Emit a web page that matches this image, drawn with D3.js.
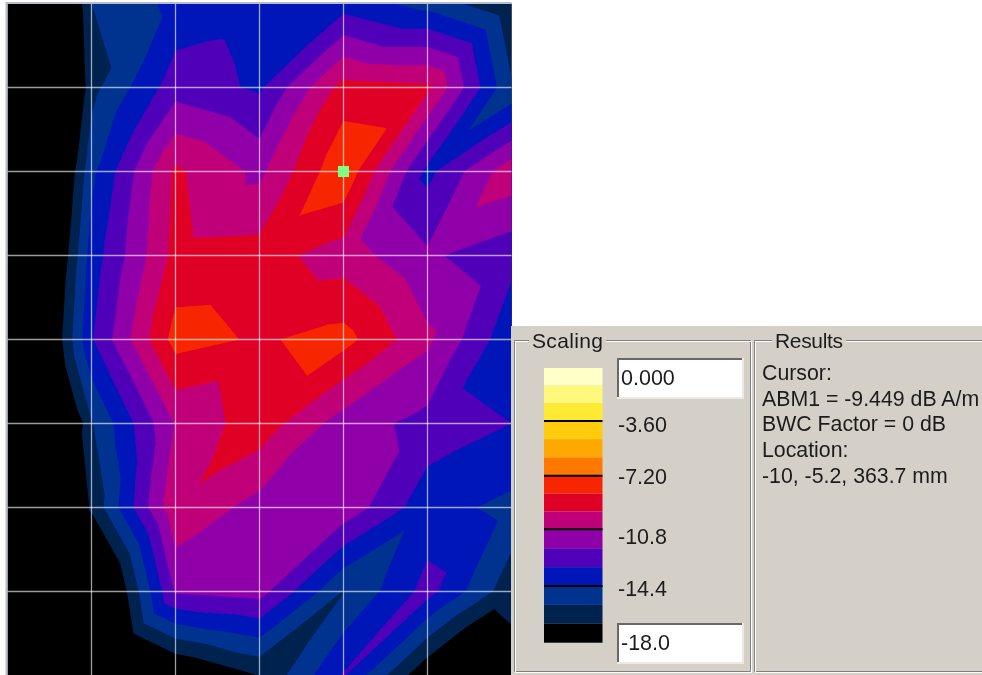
<!DOCTYPE html>
<html>
<head>
<meta charset="utf-8">
<title>ABM1 scan</title>
<script src="https://cdn.jsdelivr.net/npm/d3@7"></script>
<style>
  html, body { margin: 0; padding: 0; background: #fff; }
  svg { display: block; }
  text { font-family: "Liberation Sans", Arial, sans-serif; fill: #1c1c1c; }
</style>
</head>
<body>
<div id="chart"></div>
<script>
// scan positions, mm
const scanX = [-50, -40, -30, -20, -10, 0, 10];
const scanY = [14.8, 4.8, -5.2, -15.2, -25.2, -35.2, -45.2, -55.2, -65.2];

// field at the grid nodes, dB A/m
const nodes0 = [-26, -15.6, -14.06, -13.9, -13.75, -14.84, -16.65];
const nodes1 = [-28, -16, -12.52, -13.4, -9.1, -9.35, -15.45];
const nodes2 = [-25.4, -14.7, -9.38, -11.1, -7.35, -13.55, -10];
const nodes3 = [-24.4, -13.87, -9.18, -9.09, -10.2, -11.8, -12.8];
const nodes4 = [-23.3, -13.3, -7.92, -8.55, -7.95, -10.55, -14.1];
const nodes5 = [-26.6, -15.7, -10.71, -8.85, -11.4, -12.4, -13.2];
const nodes6 = [-24, -16.57, -9.82, -11.25, -11.15, -13.97, -14.7];
const nodes7 = [-30, -20.4, -11.85, -11.5, -15.65, -12.74, -16.4];
const nodes8 = [-30, -24, -18.5, -16.78, -13.1, -17.93, -17.4];
const nodeRows = [nodes0, nodes1, nodes2, nodes3, nodes4, nodes5, nodes6, nodes7, nodes8];

// field at the middle of each grid cell
const mids0 = [-21.5, -15.15, -13.07, -13.48, -12.1, -13];
const mids1 = [-21, -13.25, -11.4, -9.95, -8.37, -14.42];
const mids2 = [-19.6, -11.7, -10.17, -8.36, -11.7, -10.94];
const mids3 = [-18.6, -11.04, -8.5, -9.2, -9.95, -11.7];
const mids4 = [-18.9, -12, -9.62, -8.47, -10.85, -13.35];
const mids5 = [-20.5, -13.45, -9.43, -11.5, -11.8, -13.62];
const mids6 = [-20, -15.1, -11.5, -11.35, -14.76, -13.76];
const mids7 = [-24, -16.8, -14.6, -16.15, -12.9, -17.36];
const midRows = [mids0, mids1, mids2, mids3, mids4, mids5, mids6, mids7];

// colour bands, top of the scale first
const bandTops = [0, -1.2, -2.4, -3.6, -4.8, -6, -7.2, -8.4, -9.6, -10.8, -12, -13.2, -14.4, -15.6, -16.8];
const bandColors = ['#ffffc8', '#fff87a', '#ffea30', '#ffcc10', '#ffa800', '#ff7800', '#f82800', '#e00028',
  '#c00078', '#9000a8', '#5000b8', '#0018b8', '#003090', '#002050', '#000000'];
const scaleMarks = [-3.6, -7.2, -10.8, -14.4];
const scaleLabels = ['-3.60', '-7.20', '-10.8', '-14.4'];
const scaleMin = '-18.0';
const scaleMax = '0.000';

const cursor = { x: -10, y: -5.2 };
const resultLines = ['Cursor:', 'ABM1 = -9.449 dB A/m', 'BWC Factor = 0 dB', 'Location:', '-10, -5.2, 363.7 mm'];

const width = 982;
const height = 675;
const panelColor = '#d4d0c8';

const svg = d3.select('#chart').append('svg')
  .attr('width', width)
  .attr('height', height);

// the screenshot is a little soft
svg.append('defs').append('filter')
  .attr('id', 'soft')
  .attr('filterUnits', 'userSpaceOnUse')
  .attr('x', 0).attr('y', 0)
  .attr('width', width).attr('height', height)
  .append('feGaussianBlur')
  .attr('stdDeviation', 0.45);

const x = d3.scaleLinear().domain([scanX[0], scanX[scanX.length - 1]]).range([7.5, 511.5]);
const y = d3.scaleLinear().domain([scanY[0], scanY[scanY.length - 1]]).range([3.5, 675.5]);

// every grid cell is cut into four triangles that meet at its middle
const triangles = [];
midRows.forEach((row, j) => {
  row.forEach((mid, i) => {
    const c = { x: (scanX[i] + scanX[i + 1]) / 2, y: (scanY[j] + scanY[j + 1]) / 2, v: mid };
    const a = { x: scanX[i], y: scanY[j], v: nodeRows[j][i] };
    const b = { x: scanX[i + 1], y: scanY[j], v: nodeRows[j][i + 1] };
    const d = { x: scanX[i + 1], y: scanY[j + 1], v: nodeRows[j + 1][i + 1] };
    const e = { x: scanX[i], y: scanY[j + 1], v: nodeRows[j + 1][i] };
    triangles.push([a, b, c], [b, d, c], [d, e, c], [e, a, c]);
  });
});

// part of a triangle at or above a level
function clipAbove(tri, level) {
  const out = [];
  tri.forEach((p, k) => {
    const q = tri[(k + 1) % tri.length];
    if (p.v >= level) out.push(p);
    if ((p.v >= level) !== (q.v >= level)) {
      const t = (level - p.v) / (q.v - p.v);
      out.push({ x: p.x + t * (q.x - p.x), y: p.y + t * (q.y - p.y), v: level });
    }
  });
  return out;
}

const polygon = d3.line().x(p => x(p.x)).y(p => y(p.y));

const map = svg.append('g').attr('filter', 'url(#soft)');

map.append('rect')
  .attr('x', x(scanX[0]))
  .attr('y', y(scanY[0]))
  .attr('width', x(scanX[scanX.length - 1]) - x(scanX[0]))
  .attr('height', y(scanY[scanY.length - 1]) - y(scanY[0]))
  .attr('fill', bandColors[bandColors.length - 1]);

// paint from the lowest band up, each band covers everything above its floor
for (let k = bandColors.length - 2; k >= 0; k--) {
  const floor = bandTops[k + 1];
  const d = triangles
    .map(t => clipAbove(t, floor))
    .filter(p => p.length > 2)
    .map(p => polygon(p) + 'Z')
    .join('');
  if (d) map.append('path').attr('d', d).attr('fill', bandColors[k]);
}

// grid
map.selectAll('.gx').data(scanX.slice(1, -1)).join('line')
  .attr('x1', d => x(d)).attr('x2', d => x(d))
  .attr('y1', y(scanY[0])).attr('y2', height)
  .attr('stroke', '#fff').attr('stroke-opacity', 0.62).attr('stroke-width', 1.3);
map.selectAll('.gy').data(scanY.slice(1, -1)).join('line')
  .attr('y1', d => y(d)).attr('y2', d => y(d))
  .attr('x1', x(scanX[0])).attr('x2', x(scanX[scanX.length - 1]))
  .attr('stroke', '#fff').attr('stroke-opacity', 0.62).attr('stroke-width', 1.3);

// frame on the left and top
map.append('path')
  .attr('d', `M${x(scanX[0]) - 1},${height}V${y(scanY[0]) - 0.5}H${x(scanX[scanX.length - 1])}`)
  .attr('fill', 'none')
  .attr('stroke', '#b8bcc8')
  .attr('stroke-width', 2);

// cursor
map.append('rect')
  .attr('x', x(cursor.x) - 5.5)
  .attr('y', y(cursor.y) - 5.5)
  .attr('width', 11)
  .attr('height', 11)
  .attr('fill', '#80ff80');

// panel
const panel = svg.append('g').attr('filter', 'url(#soft)');
panel.append('rect')
  .attr('x', 511)
  .attr('y', 326)
  .attr('width', width - 511)
  .attr('height', height - 326)
  .attr('fill', panelColor);

function groupBox(left, right, top, bottom, title, titleX, titleW) {
  const box = `M${left},${top}H${right}V${bottom}H${left}Z`;
  panel.append('path').attr('d', box).attr('fill', 'none').attr('stroke', '#808080');
  panel.append('path').attr('d', box).attr('transform', 'translate(1,1)').attr('fill', 'none').attr('stroke', '#fff');
  panel.append('rect')
    .attr('x', titleX - 3).attr('y', top - 12)
    .attr('width', titleW + 6).attr('height', 24)
    .attr('fill', panelColor);
  panel.append('text')
    .attr('x', titleX)
    .attr('y', top + 7)
    .attr('font-size', 21)
    .attr('textLength', titleW)
    .text(title);
}

groupBox(514.5, 750.5, 340.5, 671.5, 'Scaling', 532, 71);
groupBox(754.5, 1000, 340.5, 671.5, 'Results', 775, 68);

// colour scale, the marks are not spaced quite evenly on the control
const scaleY = d3.scaleLinear()
  .domain([0, -3.6, -7.2, -10.8, -14.4, -18])
  .range([368, 421, 475.7, 529.3, 586, 642.7]);
const labelY = d3.scaleOrdinal().domain(scaleLabels).range([424, 476, 536, 588]);

const bar = panel.append('g');
bar.selectAll('rect').data(bandColors).join('rect')
  .attr('x', 544)
  .attr('y', (d, i) => scaleY(bandTops[i]))
  .attr('width', 58.5)
  .attr('height', (d, i) => scaleY(i + 1 < bandTops.length ? bandTops[i + 1] : -18) - scaleY(bandTops[i]))
  .attr('fill', d => d);
bar.selectAll('line').data(scaleMarks).join('line')
  .attr('x1', 544).attr('x2', 602.5)
  .attr('y1', d => scaleY(d)).attr('y2', d => scaleY(d))
  .attr('stroke', '#000')
  .attr('stroke-width', 2);

panel.selectAll('.mark').data(scaleLabels).join('text')
  .attr('class', 'mark')
  .attr('x', 618)
  .attr('y', d => labelY(d))
  .attr('dy', '0.36em')
  .attr('font-size', 21.5)
  .text(d => d);

function editBox(top, value) {
  const left = 617, w = 126, h = 40;
  panel.append('rect').attr('x', left).attr('y', top).attr('width', w).attr('height', h).attr('fill', '#fff');
  panel.append('path')
    .attr('d', `M${left + 1},${top + h}V${top + 1}H${left + w}`)
    .attr('fill', 'none').attr('stroke', '#686868').attr('stroke-width', 2);
  panel.append('path')
    .attr('d', `M${left},${top + h}H${left + w}V${top}`)
    .attr('fill', 'none').attr('stroke', '#ece9e4').attr('stroke-width', 2);
  panel.append('text')
    .attr('x', left + 4)
    .attr('y', top + 27)
    .attr('font-size', 21.5)
    .text(value);
}
editBox(358, scaleMax);
editBox(623, scaleMin);

// results
panel.selectAll('.result').data(resultLines).join('text')
  .attr('class', 'result')
  .attr('x', 762)
  .attr('y', (d, i) => 380 + i * 25.7)
  .attr('font-size', 21.3)
  .text(d => d);
</script>
</body>
</html>
